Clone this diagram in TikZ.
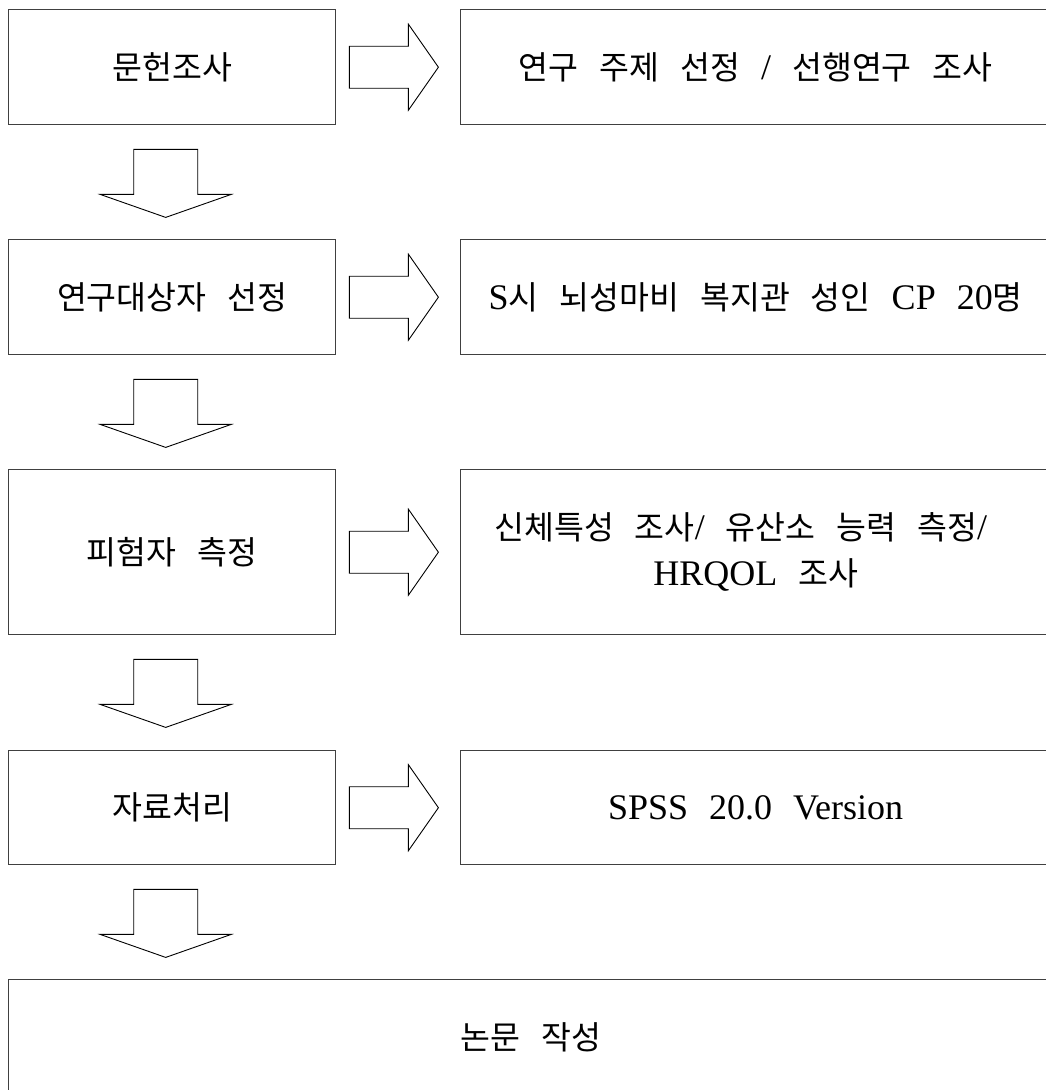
\documentclass[tikz,border=0pt]{standalone}
\usepackage{fontspec}
\setmainfont{Liberation Serif}
\newfontfamily\krfont{Noto Sans CJK KR}
\newcommand\K[1]{{\krfont\fontsize{32.5}{46}\selectfont #1}}
\newskip\wordgap
\wordgap=21pt
\newcommand\boxfont{\fontsize{36}{46}\selectfont\spaceskip\wordgap}
\usetikzlibrary{calc}
\definecolor{boxgray}{HTML}{404040}
\begin{document}
\begin{tikzpicture}[x=1pt,y=-1pt,
  box/.style={draw=boxgray, line width=1.4pt, rectangle, inner sep=0pt, anchor=north west,
    font={\boxfont}},
  blk/.style={draw=black, line width=0.9pt, fill=white, line join=miter}]
\useasboundingbox (0,0) rectangle (1046,1090);
\clip (0,0) rectangle (1046,1090);
% left column
\node[box, minimum width=327pt, minimum height=115pt] (b1) at (8,9) {\K{문헌조사}};
\node[box, minimum width=327pt, minimum height=115pt] (b2) at (8,239) {\K{연구대상자 선정}};
\node[box, minimum width=327pt, minimum height=165pt] (b3) at (8,469) {\K{피험자 측정}};
\node[box, minimum width=327pt, minimum height=114pt] (b4) at (8,750) {\K{자료처리}};
\node[box, minimum width=1044pt, minimum height=116pt] (b5) at (8,979) {\K{논문 작성}};
% right column
\node[box, minimum width=590pt, minimum height=115pt] (r1) at (460,9) {\K{연구 주제 선정} / \K{선행연구 조사}};
\node[box, minimum width=590pt, minimum height=115pt] (r2) at (460,239) {S\K{시 뇌성마비 복지관 성인} CP 20\K{명}};
\node[box, minimum width=590pt, minimum height=165pt, align=center] (r3) at (460,469)
  {\K{신체특성 조사}/ \K{유산소 능력 측정}/\rule{30pt}{0pt}\\HRQOL \K{조사}};
\node[box, minimum width=590pt, minimum height=114pt] (r4) at (460,750) {SPSS 20.0 Version};
% right block arrows
\foreach \b in {b1,b2,b3,b4}{
  \coordinate (ra\b) at ($(\b.east)+(13,0)$);
  \draw[blk, shift={(ra\b)}] (0,-21) -- (59,-21) -- (59,-43) -- (89,0) -- (59,43) -- (59,21) -- (0,21) -- cycle;
}
% down block arrows
\foreach \b in {b1,b2,b3,b4}{
  \coordinate (da\b) at ($(\b.south)+(-6.5,24)$);
  \draw[blk, shift={(da\b)}] (-32,0) -- (32,0) -- (32,45) -- (65.5,45) -- (0,68) -- (-65.5,45) -- (-32,45) -- cycle;
}
\end{tikzpicture}
\end{document}
